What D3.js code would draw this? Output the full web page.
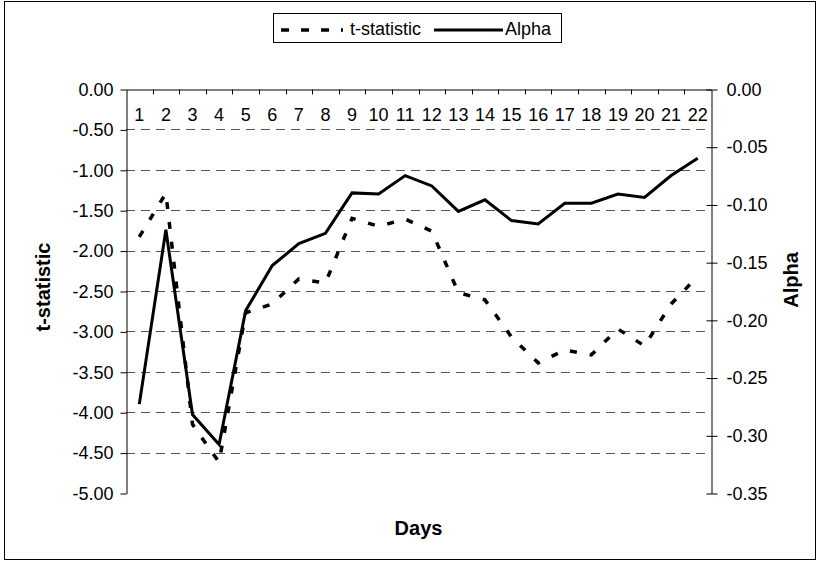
<!DOCTYPE html>
<html>
<head>
<meta charset="utf-8">
<script src="https://cdn.jsdelivr.net/npm/d3@7"></script>
<style>
body { margin: 0; background: #fff; }
text { font-family: "Liberation Sans", Arial, sans-serif; fill: #000; }
</style>
</head>
<body>
<div id="chart"></div>
<script>
var svgWidth = 819;
var svgHeight = 562;

// chart data
var days = ["1", "2", "3", "4", "5", "6", "7", "8", "9", "10", "11",
  "12", "13", "14", "15", "16", "17", "18", "19", "20", "21", "22"];
var tStat = [-1.83, -1.29, -4.15, -4.62, -2.77, -2.66, -2.35, -2.40, -1.60, -1.70, -1.61,
  -1.76, -2.52, -2.61, -3.07, -3.39, -3.23, -3.29, -2.97, -3.18, -2.66, -2.32];
var alpha = [-0.273, -0.122, -0.282, -0.308, -0.192, -0.153, -0.134, -0.125, -0.090, -0.091, -0.075,
  -0.084, -0.106, -0.096, -0.114, -0.117, -0.099, -0.099, -0.091, -0.094, -0.075, -0.060];
var leftTicks = [0, -0.5, -1, -1.5, -2, -2.5, -3, -3.5, -4, -4.5, -5];
var rightTicks = [0, -0.05, -0.1, -0.15, -0.2, -0.25, -0.3, -0.35];

var plot = { left: 126, right: 711, top: 89, bottom: 493 };

var svg = d3.select("#chart")
  .append("svg")
  .attr("width", svgWidth)
  .attr("height", svgHeight);

// outer frame
svg.append("rect")
  .attr("x", 4.5)
  .attr("y", 1.5)
  .attr("width", 811)
  .attr("height", 558)
  .attr("fill", "none")
  .attr("stroke", "#000")
  .attr("stroke-width", 1);

// scales
var xScale = d3.scaleBand()
  .domain(days)
  .range([plot.left, plot.right]);
var bw = xScale.bandwidth();

var yLeft = d3.scaleLinear()
  .domain([0, -5])
  .range([plot.top, plot.bottom]);

var yRight = d3.scaleLinear()
  .domain([0, -0.35])
  .range([plot.top, plot.bottom]);

var fmt = function(v) { return v.toFixed(2); };

// gridlines
svg.append("g")
  .selectAll("line")
  .data(leftTicks.filter(d => d !== 0 && d !== -5))
  .enter()
  .append("line")
  .attr("x1", plot.left)
  .attr("x2", plot.right)
  .attr("y1", d => Math.round(yLeft(d)) + 0.5)
  .attr("y2", d => Math.round(yLeft(d)) + 0.5)
  .attr("stroke", "#555")
  .attr("stroke-width", 1)
  .attr("stroke-dasharray", "9,6");

// left axis
var leftAxis = svg.append("g")
  .attr("transform", `translate(${plot.left + 0.5}, 0.5)`)
  .call(d3.axisLeft(yLeft).tickValues(leftTicks).tickSize(6).tickSizeOuter(0)
    .tickPadding(7).tickFormat(fmt));

// right axis
var rightAxis = svg.append("g")
  .attr("transform", `translate(${plot.right + 0.5}, 0.5)`)
  .call(d3.axisRight(yRight).tickValues(rightTicks).tickSize(6).tickSizeOuter(0)
    .tickPadding(9).tickFormat(fmt));
rightAxis.selectAll(".tick line").attr("x1", -5);

// top category axis
var topAxis = svg.append("g")
  .attr("transform", `translate(0, ${plot.top + 0.5})`)
  .call(d3.axisBottom(xScale).tickSize(0).tickPadding(19).tickSizeOuter(0));

topAxis.selectAll(".boundary")
  .data(days.slice(1))
  .enter()
  .append("line")
  .attr("class", "boundary")
  .attr("x1", d => Math.round(xScale(d)) + 0.5)
  .attr("x2", d => Math.round(xScale(d)) + 0.5)
  .attr("y1", 0)
  .attr("y2", 5)
  .attr("stroke", "#000");

svg.selectAll(".domain").attr("stroke", "#000");
svg.selectAll(".tick line").attr("stroke", "#000");
svg.selectAll(".tick text")
  .attr("font-size", "18px")
  .attr("font-family", "Liberation Sans, Arial, sans-serif")
  .attr("fill", "#000");

// lines
var tLine = d3.line()
  .x((d, i) => xScale(days[i]) + bw / 2)
  .y(d => yLeft(d));

var aLine = d3.line()
  .x((d, i) => xScale(days[i]) + bw / 2)
  .y(d => yRight(d));

svg.append("path")
  .datum(tStat)
  .attr("d", tLine)
  .attr("fill", "none")
  .attr("stroke", "#000")
  .attr("stroke-width", 3.5)
  .attr("stroke-dasharray", "7,13");

svg.append("path")
  .datum(alpha)
  .attr("d", aLine)
  .attr("fill", "none")
  .attr("stroke", "#000")
  .attr("stroke-width", 3);

// axis titles
svg.append("text")
  .attr("transform", `translate(50, ${(plot.top + plot.bottom) / 2 - 4})rotate(-90)`)
  .attr("text-anchor", "middle")
  .attr("font-size", "20px")
  .attr("font-weight", "bold")
  .text("t-statistic");

svg.append("text")
  .attr("transform", `translate(798, 280)rotate(-90)`)
  .attr("text-anchor", "middle")
  .attr("font-size", "20px")
  .attr("font-weight", "bold")
  .text("Alpha");

svg.append("text")
  .attr("x", (plot.left + plot.right) / 2)
  .attr("y", 535)
  .attr("text-anchor", "middle")
  .attr("font-size", "20px")
  .attr("font-weight", "bold")
  .text("Days");

// legend
var legend = svg.append("g");

legend.append("rect")
  .attr("x", 273.5)
  .attr("y", 13.5)
  .attr("width", 288)
  .attr("height", 29)
  .attr("fill", "#fff")
  .attr("stroke", "#000");

legend.append("line")
  .attr("x1", 281)
  .attr("x2", 343)
  .attr("y1", 30)
  .attr("y2", 30)
  .attr("stroke", "#000")
  .attr("stroke-width", 3.5)
  .attr("stroke-dasharray", "8,12");

legend.append("text")
  .attr("x", 350)
  .attr("y", 35)
  .attr("font-size", "18px")
  .text("t-statistic");

legend.append("line")
  .attr("x1", 434)
  .attr("x2", 503)
  .attr("y1", 30)
  .attr("y2", 30)
  .attr("stroke", "#000")
  .attr("stroke-width", 3);

legend.append("text")
  .attr("x", 505)
  .attr("y", 35)
  .attr("font-size", "18px")
  .text("Alpha");
</script>
</body>
</html>
